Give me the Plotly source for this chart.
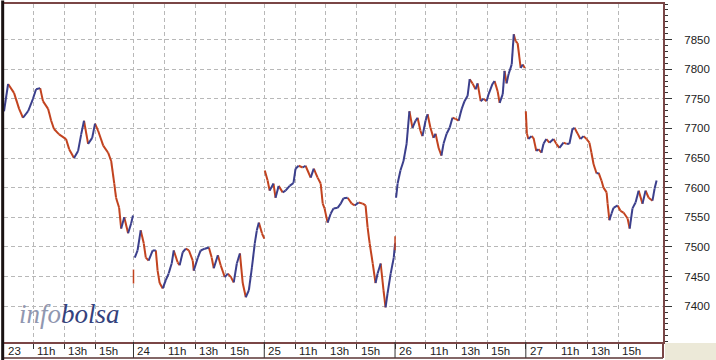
import plotly.graph_objects as go

# ---------------- data ----------------
day_labels = ["23", "24", "25", "26", "27"]
hour_labels = ["11h", "13h", "15h"]
hour_offsets = [120, 240, 360]          # minutes after 9:00
SESSION = 510                           # 9:00 -> 17:30
y_ticks = [7400, 7450, 7500, 7550, 7600, 7650, 7700, 7750, 7800, 7850]

# minutes after the 9:00 open, and index level
min_23 = [5, 21, 44, 64, 79, 99, 118, 130, 146, 157, 177, 189, 200, 220, 247, 259, 278,
          294, 306, 317, 333, 349, 360, 372, 392, 411, 423, 435, 442, 454, 462, 474, 489,
          501, 508]
px_23 = [7729, 7775, 7760, 7733, 7718, 7729, 7750, 7766, 7768, 7746, 7733, 7713, 7699,
         7690, 7682, 7665, 7650, 7662, 7690, 7713, 7674, 7684, 7708, 7696, 7671, 7659,
         7645, 7607, 7583, 7566, 7531, 7550, 7523, 7540, 7553]

min_24 = [5, 16, 28, 40, 48, 59, 75, 87, 94, 102, 114, 126, 137, 149, 157, 172, 180, 192,
          204, 216, 231, 235, 251, 262, 278, 294, 305, 313, 329, 340, 356, 368, 380, 391,
          403, 415, 426, 438, 450, 462, 473, 481, 489, 501, 510]
px_24 = [7482, 7494, 7528, 7506, 7482, 7477, 7494, 7494, 7460, 7439, 7430, 7444, 7455,
         7472, 7494, 7474, 7469, 7491, 7497, 7494, 7477, 7460, 7482, 7494, 7497, 7499,
         7482, 7464, 7486, 7469, 7449, 7455, 7449, 7440, 7472, 7489, 7439, 7415, 7427,
         7466, 7506, 7528, 7541, 7523, 7514]

min_25 = [2, 13, 21, 36, 44, 56, 72, 83, 99, 114, 122, 134, 150, 161, 181, 193, 208, 220,
          228, 235, 247, 259, 270, 286, 298, 309, 325, 341, 353, 368, 384, 395, 403, 411,
          423, 434, 442, 454, 465, 473, 481, 493, 505, 510]
px_25 = [7629, 7612, 7595, 7607, 7583, 7603, 7592, 7595, 7603, 7608, 7632, 7637, 7634,
         7637, 7617, 7632, 7617, 7607, 7573, 7565, 7541, 7556, 7565, 7566, 7573, 7582,
         7583, 7573, 7570, 7575, 7573, 7570, 7533, 7506, 7472, 7439, 7455, 7472, 7427,
         7398, 7422, 7455, 7482, 7506]

min_26 = [4, 10, 21, 33, 45, 56, 68, 80, 88, 99, 107, 119, 127, 138, 150, 158, 170, 181,
          189, 201, 213, 224, 236, 248, 260, 271, 283, 291, 302, 314, 322, 334, 345, 357,
          365, 380, 388, 400, 408, 420, 427, 435, 443, 455, 463, 470, 478, 490, 498, 506]
px_26 = [7583, 7607, 7629, 7645, 7674, 7729, 7701, 7713, 7718, 7696, 7687, 7713, 7724,
         7701, 7684, 7691, 7667, 7654, 7674, 7691, 7701, 7718, 7716, 7713, 7733, 7746,
         7755, 7783, 7776, 7766, 7776, 7746, 7750, 7746, 7758, 7775, 7780, 7763, 7743,
         7758, 7797, 7776, 7792, 7808, 7859, 7847, 7844, 7802, 7808, 7802]

min_27 = [0, 4, 10, 22, 30, 41, 49, 61, 69, 80, 92, 108, 119, 131, 147, 159, 170, 182, 190,
          201, 213, 225, 237, 248, 256, 264, 276, 284, 295, 303, 315, 319, 326, 334, 342,
          358, 369, 381, 397, 405, 416, 428, 440, 455, 467, 479, 494, 502, 510]
px_27 = [7729, 7692, 7682, 7687, 7684, 7662, 7665, 7659, 7674, 7682, 7676, 7682, 7674,
         7667, 7676, 7674, 7674, 7699, 7701, 7692, 7682, 7687, 7682, 7676, 7659, 7640,
         7624, 7625, 7612, 7600, 7592, 7573, 7545, 7556, 7566, 7570, 7561, 7558, 7548,
         7531, 7565, 7575, 7595, 7573, 7595, 7583, 7578, 7598, 7612]

# isolated opening-auction prints
open_tick_day = [1, 3]
open_tick_price = [7450, 7506]

# ---------------- build ----------------
UP = "#3b3f8c"
DOWN = "#c2431f"
BROWN = "#7a4646"
GRID = "#b8b8b8"
X_RANGE = [5, 2575]
Y_RANGE = [7339.5, 7910]

series = [(min_23, px_23), (min_24, px_24), (min_25, px_25), (min_26, px_26), (min_27, px_27)]

up_x, up_y, dn_x, dn_y = [], [], [], []
for d, (mins, prices) in enumerate(series):
    ts = [d * SESSION + m for m in mins]
    for i in range(1, len(ts)):
        if prices[i] >= prices[i - 1]:
            up_x += [ts[i - 1], ts[i], None]
            up_y += [prices[i - 1], prices[i], None]
        else:
            dn_x += [ts[i - 1], ts[i], None]
            dn_y += [prices[i - 1], prices[i], None]

fig = go.Figure()
fig.add_trace(go.Scatter(x=dn_x, y=dn_y, mode="lines", line=dict(color=DOWN, width=2),
                         hoverinfo="skip"))
fig.add_trace(go.Scatter(x=up_x, y=up_y, mode="lines", line=dict(color=UP, width=2),
                         hoverinfo="skip"))
fig.add_trace(go.Scatter(x=[d * SESSION for d in open_tick_day], y=open_tick_price,
                         mode="markers",
                         marker=dict(symbol="line-ns", size=10,
                                     line=dict(color=DOWN, width=1.5)),
                         hoverinfo="skip"))

tickvals = []
for d in range(len(day_labels)):
    tickvals.append(d * SESSION)
    for off in hour_offsets:
        tickvals.append(d * SESSION + off)

fig.update_layout(
    width=716, height=360,
    margin=dict(l=3, r=53, t=2, b=18),
    paper_bgcolor="white", plot_bgcolor="white",
    showlegend=False,
    font=dict(family="Liberation Sans, Arial, sans-serif", size=11, color="#222222"),
    xaxis=dict(range=X_RANGE, tickvals=tickvals, showticklabels=False,
               ticks="outside", ticklen=5, tickcolor="#333333", tickwidth=1,
               showgrid=True, gridcolor=GRID, griddash="4px,3px", gridwidth=1,
               showline=True, linecolor=BROWN, linewidth=2, mirror=True,
               zeroline=False, fixedrange=True),
    yaxis=dict(side="right", range=Y_RANGE, tickvals=y_ticks,
               ticks="outside", ticklen=7, tickcolor="#333333", tickwidth=1,
               ticklabelstandoff=10,
               minor=dict(dtick=10, tick0=7400, ticks="outside", ticklen=3,
                          tickcolor="#333333", showgrid=False),
               showgrid=True, gridcolor=GRID, griddash="4px,3px", gridwidth=1,
               showline=True, linecolor=BROWN, linewidth=2, mirror=True,
               zeroline=False, fixedrange=True,
               tickfont=dict(size=11.5, color="#222222")),
)

shapes = []
# beige corner below the price scale
shapes.append(dict(type="rect", xref="paper", yref="paper", x0=1.003, x1=1.09,
                   y0=-0.07, y1=-0.003, fillcolor="#ece9d8", line=dict(width=0), layer="below"))
# frame of the date band
shapes.append(dict(type="line", xref="paper", yref="paper", x0=0, x1=1.0, y0=-0.047,
                   y1=-0.047, line=dict(color="#5a3434", width=1.5)))
shapes.append(dict(type="line", xref="paper", yref="paper", x0=1.0, x1=1.0, y0=-0.047,
                   y1=0, line=dict(color=BROWN, width=2)))
# dark left edge
shapes.append(dict(type="line", xref="paper", yref="paper", x0=-0.002, x1=-0.002,
                   y0=-0.06, y1=1.01, line=dict(color="#1a1212", width=3)))
# full-height day separators in the date band
for d in range(1, len(day_labels)):
    shapes.append(dict(type="line", xref="x", yref="paper", x0=d * SESSION, x1=d * SESSION,
                       y0=-0.047, y1=0, line=dict(color="#333333", width=1)))
fig.update_layout(shapes=shapes)

annotations = []
for d, lab in enumerate(day_labels):
    annotations.append(dict(x=max(d * SESSION, X_RANGE[0]), xref="x", y=-0.026, yref="paper",
                            text=lab, showarrow=False, xanchor="left", yanchor="middle",
                            xshift=2, font=dict(size=11.5, color="#222222")))
    for off, hl in zip(hour_offsets, hour_labels):
        annotations.append(dict(x=d * SESSION + off, xref="x", y=-0.026, yref="paper",
                                text=hl, showarrow=False, xanchor="left", yanchor="middle",
                                xshift=2, font=dict(size=11.5, color="#222222")))
# watermark
annotations.append(dict(x=0.02, xref="paper", y=0.082, yref="paper", showarrow=False,
                        xanchor="left", yanchor="middle",
                        text="<i><span style='color:#9097b0'>info</span>"
                             "<span style='color:#34427c'>bolsa</span></i>",
                        font=dict(family="Liberation Serif, serif", size=27)))
fig.update_layout(annotations=annotations)

fig.write_html("out.html")
